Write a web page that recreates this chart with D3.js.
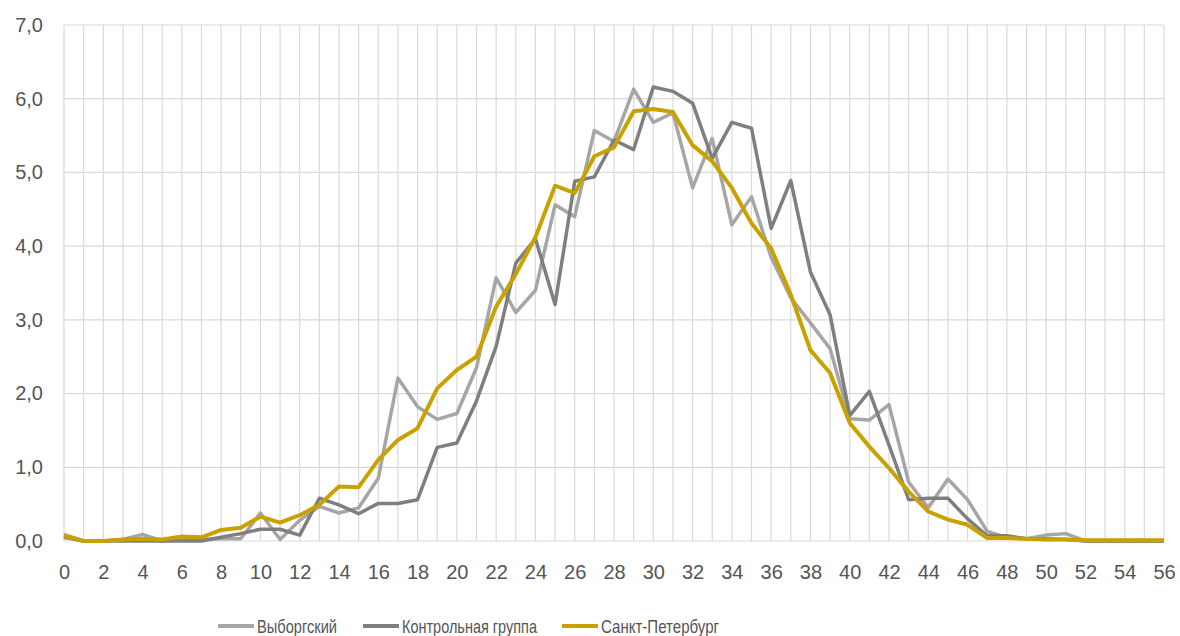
<!DOCTYPE html>
<html>
<head>
<meta charset="utf-8">
<script src="https://cdn.jsdelivr.net/npm/d3@7"></script>
<style>
  body { margin: 0; background: #fff; }
  .tick text { font-family: "Liberation Sans", Arial, sans-serif; fill: #555; }
  .legend text { font-family: "Liberation Sans", Arial, sans-serif; fill: #555; }
</style>
</head>
<body>
<svg width="1180" height="636"></svg>
<script>
// categories 0..56
var categories = d3.range(0, 57);

var vyborgsky = [0.09,0,0,0.02,0.09,0,0.02,0.02,0.03,0.03,0.38,0.02,0.28,0.47,0.38,0.45,0.85,2.21,1.82,1.65,1.73,2.35,3.57,3.1,3.4,4.56,4.4,5.57,5.42,6.13,5.68,5.81,4.79,5.46,4.29,4.67,3.85,3.3,2.96,2.61,1.66,1.64,1.85,0.8,0.45,0.84,0.56,0.13,0.05,0.03,0.08,0.1,0,0,0,0,0];
var control =   [0.05,0,0,0,0,0,0,0,0.05,0.1,0.16,0.16,0.08,0.58,0.49,0.37,0.51,0.51,0.56,1.27,1.33,1.9,2.64,3.77,4.1,3.21,4.88,4.94,5.44,5.31,6.16,6.1,5.94,5.19,5.68,5.6,4.24,4.89,3.65,3.07,1.7,2.03,1.3,0.56,0.58,0.58,0.3,0.07,0.07,0.03,0.03,0.02,0,0,0,0,0];
var spb =       [0.07,0,0,0.02,0.03,0.02,0.06,0.05,0.15,0.18,0.33,0.25,0.35,0.49,0.74,0.73,1.1,1.37,1.53,2.07,2.32,2.5,3.18,3.62,4.12,4.82,4.72,5.22,5.34,5.83,5.86,5.82,5.37,5.15,4.79,4.31,3.97,3.34,2.59,2.28,1.6,1.28,0.99,0.67,0.4,0.29,0.22,0.04,0.04,0.03,0.02,0.02,0.01,0.01,0.01,0.01,0.01];

var yTicks = [0,1,2,3,4,5,6,7];
var xTickLabels = categories.filter(function(d) { return d % 2 == 0; });

var series = [
  {name: "Выборгский", values: vyborgsky, color: "#a6a6a6"},
  {name: "Контрольная группа", values: control, color: "#7f7f7f"},
  {name: "Санкт-Петербург", values: spb, color: "#c9a200"}
];

var svg = d3.select("svg"),
    margin = {top: 25, right: 16, bottom: 95, left: 64},
    width = +svg.attr("width") - margin.left - margin.right,
    height = +svg.attr("height") - margin.top - margin.bottom;

var x = d3.scaleLinear().domain([0, 56]).range([0, width]),
    y = d3.scaleLinear().domain([0, 7]).range([height, 0]);

var fmt = function(d) { return d3.format(".1f")(d).replace(".", ","); };

var g = svg.append("g")
    .attr("transform", "translate(" + margin.left + "," + margin.top + ")");

// grid
g.append("g").selectAll("line.v")
    .data(categories)
    .enter().append("line")
    .attr("x1", function(d) { return x(d); })
    .attr("x2", function(d) { return x(d); })
    .attr("y1", 0).attr("y2", height)
    .attr("stroke", "#d9d9d9").attr("stroke-width", 1.2);

g.append("g").selectAll("line.h")
    .data(yTicks)
    .enter().append("line")
    .attr("x1", 0).attr("x2", width)
    .attr("y1", function(d) { return y(d); })
    .attr("y2", function(d) { return y(d); })
    .attr("stroke", "#d9d9d9").attr("stroke-width", 1.2);

// axes
var xAxis = d3.axisBottom(x).tickValues(xTickLabels).tickSize(0).tickPadding(24).tickFormat(d3.format("d"));
var yAxis = d3.axisLeft(y).tickValues(yTicks).tickSize(0).tickPadding(21).tickFormat(fmt);

g.append("g")
    .attr("transform", "translate(0," + height + ")")
    .call(xAxis)
    .call(function(s) { s.select(".domain").remove(); })
    .selectAll("text").style("font-size", "20px");

g.append("g")
    .call(yAxis)
    .call(function(s) { s.select(".domain").remove(); })
    .selectAll("text").style("font-size", "20px");

// lines
var line = d3.line()
    .x(function(d, i) { return x(categories[i]); })
    .y(function(d) { return y(d); });

g.selectAll(".series")
    .data(series)
    .enter().append("path")
    .attr("class", "series")
    .attr("fill", "none")
    .attr("stroke", function(d) { return d.color; })
    .attr("stroke-width", function(d) { return d.name == "Санкт-Петербург" ? 4 : 3.5; })
    .attr("stroke-linejoin", "round")
    .attr("d", function(d) { return line(d.values); });

// legend
var legendX = [218, 363, 562];
var legendW = [80, 135, 118];
var legend = svg.append("g").attr("class", "legend");
var item = legend.selectAll("g")
    .data(series)
    .enter().append("g")
    .attr("transform", function(d, i) { return "translate(" + legendX[i] + ",626)"; });

item.append("line")
    .attr("x1", 0).attr("x2", 36)
    .attr("stroke", function(d) { return d.color; })
    .attr("stroke-width", 4);

item.append("text")
    .attr("x", 39)
    .attr("dy", "0.35em")
    .attr("textLength", function(d, i) { return legendW[i]; })
    .attr("lengthAdjust", "spacingAndGlyphs")
    .style("font-size", "19px")
    .text(function(d) { return d.name; });
</script>
</body>
</html>
